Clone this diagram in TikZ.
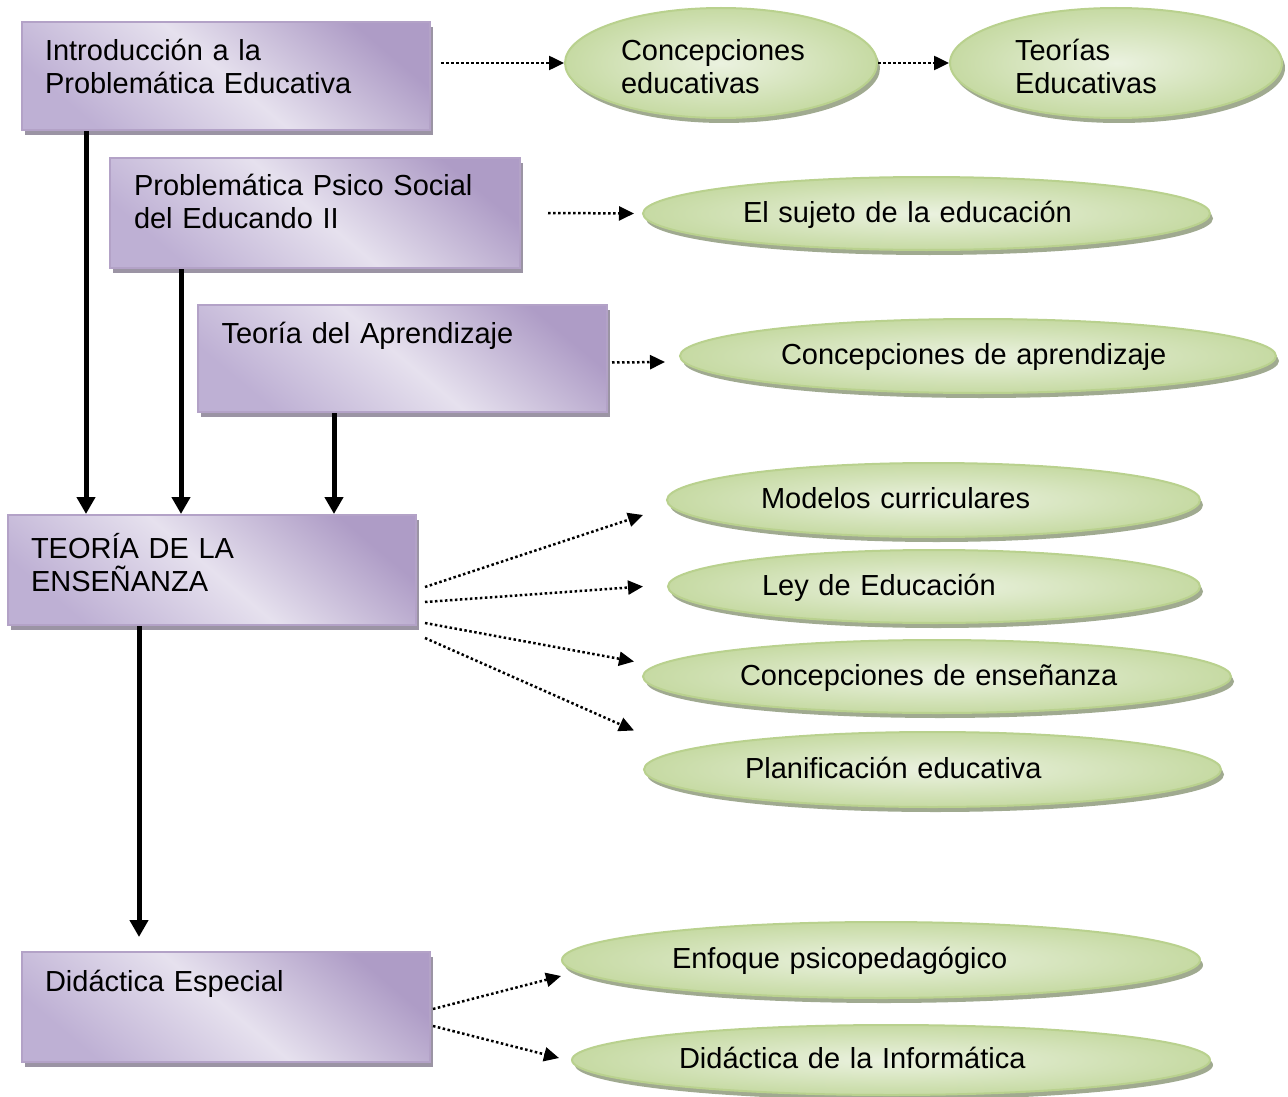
\documentclass[tikz,border=0pt]{standalone}
\usepackage{fontspec}
\setmainfont{Liberation Sans}
\usetikzlibrary{arrows.meta,shadows,shapes.geometric}

\definecolor{boxdark}{HTML}{AE9CC6}
\definecolor{boxlight}{HTML}{E6E1EE}
\definecolor{boxlow}{HTML}{BEB0D4}
\definecolor{boxline}{HTML}{B3A2C7}
\definecolor{boxshade}{HTML}{9B94A4}
\definecolor{ovalin}{HTML}{EBF2E0}
\definecolor{ovalout}{HTML}{C6DAA3}
\definecolor{ovalline}{HTML}{B9D18E}
\definecolor{ovalshade}{HTML}{A0AA90}

\begin{document}
\begin{tikzpicture}[x=1pt, y=-1pt,
	every node/.style={font=\fontsize{29}{33}\selectfont},
	block/.style={rectangle, draw=boxline, line width=2pt, top color=boxdark, bottom color=boxlow, middle color=boxlight, shading angle=-40,
		drop shadow={shadow xshift=3pt, shadow yshift=-5pt, fill=boxshade, opacity=1},
		minimum width=408pt, minimum height=108pt, text width=362pt, inner xsep=23pt, inner ysep=0pt, align=left, text height=21pt},
	oval/.style={ellipse, draw=ovalline, line width=2pt, inner color=ovalin, outer color=ovalout,
		drop shadow={shadow xshift=3pt, shadow yshift=-5pt, fill=ovalshade, opacity=1},
		inner sep=0pt, align=left, text height=21pt, text depth=4pt},
	thickarrow/.style={line width=5pt, -{Triangle[length=17pt,width=18pt]}},
	dotarrow/.style={line width=2.5pt, dash pattern=on 2.5pt off 2.5pt, -{Triangle[length=15pt,width=14pt]}}]
	\useasboundingbox (0,0) rectangle (1288,1097);
	
	\node[block, text depth=51pt] (a) at (226,76) {Introducción a la\\Problemática Educativa};
	\node[block, text depth=57pt, minimum width=410pt, minimum height=110pt] (b) at (315,213) {Problemática Psico Social\\del Educando II};
	\node[block, text depth=52pt, minimum width=409pt, minimum height=107pt] (c) at (402.5,358.5) {Teoría del Aprendizaje};
	\node[block, text depth=45pt, minimum height=110pt] (d) at (212,570) {TEORÍA DE LA\\ENSEÑANZA};
	\node[block, text depth=53pt, minimum height=110pt] (e) at (226,1007) {Didáctica Especial};
	
	\node[oval, minimum width=312pt, minimum height=110pt, text width=200pt, text depth=25pt] (f) at (721,63) {Concepciones\\educativas};
	\node[oval, minimum width=332pt, minimum height=110pt, text width=202pt, text depth=25pt] (g) at (1116,63) {Teorías\\Educativas};
	\node[oval, minimum width=567pt, minimum height=73pt, text width=367pt] (h) at (926.5,213.5) {El sujeto de la educación};
	\node[oval, minimum width=596pt, minimum height=74pt, text width=394pt] (i) at (978,356) {Concepciones de aprendizaje};
	\node[oval, minimum width=533pt, minimum height=74pt, text width=345pt] (j) at (933.5,500) {Modelos curriculares};
	\node[oval, minimum width=532pt, minimum height=73pt, text width=344pt] (k) at (934,586.5) {Ley de Educación};
	\node[oval, minimum width=588pt, minimum height=73pt, text width=394pt] (l) at (937,676.5) {Concepciones de enseñanza};
	\node[oval, minimum width=577pt, minimum height=75pt, text width=375pt] (m) at (932.5,769.5) {Planificación educativa};
	\node[oval, minimum width=638pt, minimum height=76pt, text width=418pt] (n) at (881,960) {Enfoque psicopedagógico};
	\node[oval, minimum width=638pt, minimum height=70pt, text width=424pt] (o) at (891,1060) {Didáctica de la Informática};
	
	\draw[thickarrow] ([xshift=65pt]a.south west) -- ([xshift=79pt]d.north west);
	\draw[thickarrow] ([xshift=72pt]b.south west) -- ([xshift=174pt]d.north west);
	\draw[thickarrow] ([xshift=137pt]c.south west) -- ([xshift=327pt]d.north west);
	\draw[thickarrow, shorten >=14pt] ([xshift=132pt]d.south west) -- ([xshift=118pt]e.north west);
	
	\draw[dotarrow] ([xshift=10pt]a.east |- f.west) -- (f.west);
	\draw[dotarrow] (f.east) -- (g.west);
	\draw[dotarrow] ([xshift=27pt]b.east) -- ([xshift=-8pt]h.west);
	\draw[dotarrow] ([xshift=4pt,yshift=-4pt]c.east) -- ([xshift=-14pt,yshift=-6pt]i.west);
	
	\draw[dotarrow] ([xshift=8pt,yshift=-17pt]d.east) -- ([xshift=-23pt,yshift=-15pt]j.west);
	\draw[dotarrow] ([xshift=8pt,yshift=-32pt]d.east) -- ([xshift=-24pt]k.west);
	\draw[dotarrow] ([xshift=8pt,yshift=-53pt]d.east) -- ([xshift=-8pt,yshift=15pt]l.west);
	\draw[dotarrow] ([xshift=8pt,yshift=-68pt]d.east) -- ([xshift=-9pt,yshift=39pt]m.west);
	
	\draw[dotarrow] ([xshift=2pt,yshift=-2pt]e.east) -- ([yshift=-16pt]n.west);
	\draw[dotarrow] ([xshift=2pt,yshift=-19pt]e.east) -- ([xshift=-12pt,yshift=2pt]o.west);
\end{tikzpicture}
\end{document}
